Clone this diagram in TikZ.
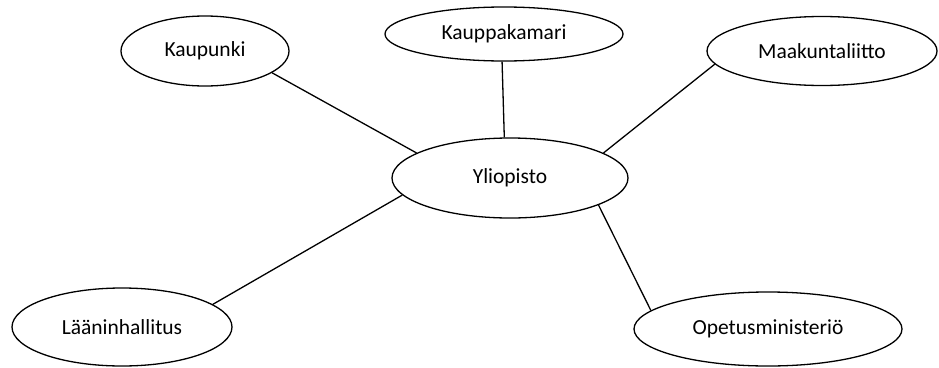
\documentclass[tikz,border=0pt]{standalone}
\usepackage{fontspec}
\setmainfont{Carlito}
\usetikzlibrary{shapes.geometric}
\begin{document}
\begin{tikzpicture}[x=1pt,y=-1pt,
  org/.style={ellipse,draw,line width=1.3pt,inner sep=0pt,font=\fontsize{21.5}{26}\selectfont},
  link/.style={line width=1.3pt}]
\useasboundingbox (0,0) rectangle (939,367);
\node[org,minimum width=168pt,minimum height=70pt] (kau) at (205,51) {Kaupunki};
\node[org,minimum width=238pt,minimum height=54pt] (kpk) at (504,34) {Kauppakamari};
\node[org,minimum width=230pt,minimum height=69pt] (mkl) at (822,51) {Maakuntaliitto};
\node[org,minimum width=236pt,minimum height=80pt] (yli) at (510,178) {Yliopisto};
\node[org,minimum width=220pt,minimum height=78pt] (lhl) at (122,327) {Lääninhallitus};
\node[org,minimum width=268pt,minimum height=74pt] (opm) at (768,329) {Opetusministeriö};
\draw[link] (kau.-18) -- (yli.165);
\draw[link] (kpk.266) -- (yli.98);
\draw[link] (mkl.187) -- (yli.15);
\draw[link] (lhl.14) -- (yli.189);
\draw[link] (opm.171) -- (yli.-17);
\end{tikzpicture}
\end{document}
